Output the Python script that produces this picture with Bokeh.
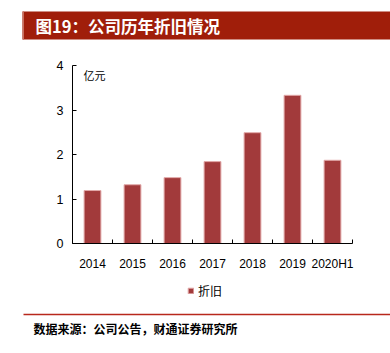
from bokeh.plotting import figure
from bokeh.models import (ColumnDataSource, FixedTicker, Range1d, Label, Legend,
                          LegendItem, BoxAnnotation)
from bokeh.embed import file_html
from bokeh.resources import INLINE

# ---- data ----
categories = ["2014", "2015", "2016", "2017", "2018", "2019", "2020H1"]
depreciation = [1.19, 1.32, 1.48, 1.84, 2.49, 3.33, 1.87]
y_ticks = [0, 1, 2, 3, 4]
title_text = "图19：公司历年折旧情况"
unit_text = "亿元"
series_name = "折旧"
source_text = "数据来源：公司公告，财通证券研究所"

BAR = "#A23A3B"
RED = "#A01E0A"
W, H = 390, 353

# plot area in page pixels: x 72..352, y 65 (value 4) .. 243 (value 0)
n = len(categories)
px_x = (352 - 72) / n
px_y = (243 - 65) / 4.0
x_range = Range1d(-72 / px_x, n + (W - 352) / px_x)
y_range = Range1d(-(H - 243) / px_y, 4 + 65 / px_y)

x_centers = [i + 0.5 for i in range(n)]
src = ColumnDataSource(dict(x=x_centers, top=depreciation, label=categories))

p = figure(width=W, height=H, output_backend="svg", toolbar_location=None,
           x_range=x_range, y_range=y_range, min_border=0)
p.outline_line_color = None
p.grid.visible = False
p.background_fill_color = "white"
p.border_fill_color = "white"

r = p.vbar(x="x", top="top", width=0.42, bottom=0, source=src,
           fill_color=BAR, line_color="#E2A9A9", line_width=1)

xa = p.xaxis[0]
xa.fixed_location = 0
xa.bounds = (0, n)
xa.ticker = FixedTicker(ticks=x_centers, minor_ticks=list(range(n + 1)))
xa.major_label_overrides = {x: c for x, c in zip(x_centers, categories)}
xa.major_tick_line_color = None
xa.minor_tick_in = 4
xa.minor_tick_out = 0
xa.minor_tick_line_color = "black"
xa.axis_line_color = "black"
xa.major_label_standoff = 7
xa.major_label_text_font = "Liberation Sans"
xa.major_label_text_font_size = "12px"
xa.major_label_text_color = "black"

ya = p.yaxis[0]
ya.fixed_location = 0
ya.bounds = (0, 4)
ya.ticker = FixedTicker(ticks=y_ticks)
ya.major_tick_in = 4
ya.major_tick_out = 0
ya.minor_tick_line_color = None
ya.axis_line_color = "black"
ya.major_label_standoff = 9
ya.major_label_text_font = "Liberation Sans"
ya.major_label_text_font_size = "12.5px"
ya.major_label_text_color = "black"


def box(l, t, rgt, b, color):
    return BoxAnnotation(left=l, right=rgt, top=H - t, bottom=H - b,
                         left_units="screen", right_units="screen",
                         top_units="screen", bottom_units="screen",
                         fill_color=color, fill_alpha=1, line_color=None)


def label(x, y, text, **kw):
    return Label(x=x, y=H - y, x_units="screen", y_units="screen", text=text,
                 text_font="Noto Sans CJK SC", text_baseline="middle", **kw)


# header band + title
p.add_layout(box(22, 11, W, 39, RED))
p.add_layout(box(22, 11, 23.5, 39, "#C8705F"))
p.add_layout(label(35, 25.5, title_text, text_color="white", text_font_style="bold",
                   text_font_size="16.5px"))

# unit
p.add_layout(label(83, 74, unit_text, text_color="black", text_font_size="11px"))

# legend
leg = Legend(items=[LegendItem(label=series_name, renderers=[r])],
             location=(187, H - 299), orientation="horizontal",
             glyph_width=7, glyph_height=7, label_standoff=4,
             padding=0, margin=0, spacing=0, border_line_color=None,
             background_fill_alpha=0,
             label_text_font="Noto Sans CJK SC", label_text_font_size="12px",
             label_text_color="black")
p.add_layout(leg, "center")

# footer rule + source
p.add_layout(box(23, 313.3, W, 314.7, "#B8281C"))
p.add_layout(label(33, 328, source_text, text_color="black", text_font_style="bold",
                   text_font_size="12px"))

open("out.html", "w").write(file_html(p, INLINE))
